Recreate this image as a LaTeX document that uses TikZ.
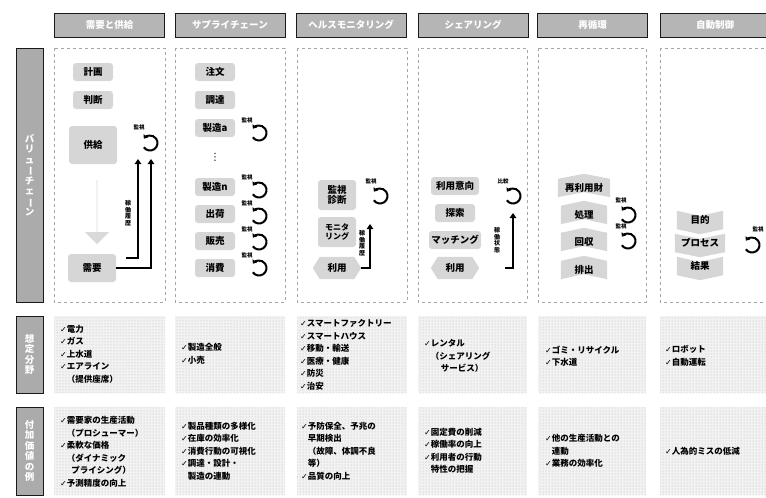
\documentclass[tikz,border=0pt]{standalone}
\usepackage{fontspec}
\setmainfont{Noto Sans CJK JP}
\newfontfamily\jp{Noto Sans CJK JP}
\newfontfamily\dv{DejaVu Sans}
\usetikzlibrary{shapes.arrows,arrows.meta,patterns,calc,backgrounds}
\newcommand\ck{{\dv\fontsize{8}{8}\selectfont ✓}}
\newcommand\ckph{\phantom{\ck}}
\newcommand\vchoon{\rotatebox[origin=c]{-90}{ー}}
\newcommand\upbg[1]{\fill[procfill] (#1.south west) -- (#1.north west) -- ($(#1.north)+(0,-5)$) -- (#1.north east) -- (#1.south east) -- ($(#1.south)+(0,-5)$) -- cycle;}
\newcommand\downbg[1]{\fill[procfill] (#1.north west) -- ($(#1.north)+(0,5)$) -- (#1.north east) -- (#1.south east) -- ($(#1.south)+(0,5)$) -- (#1.south west) -- cycle;}
\newcommand\hexbg[1]{\fill[procfill] ($(#1.west)+(-7,0)$) -- (#1.north west) -- (#1.north east) -- ($(#1.east)+(7,0)$) -- (#1.south east) -- (#1.south west) -- cycle;}
\tikzset{
 procfill/.style={fill=gray!32},
 tab/.style={draw=gray!20!black, fill=gray!58, text=white, minimum width=110pt, minimum height=24pt, inner sep=0pt, font=\jp\bfseries\fontsize{9.5}{10}\selectfont},
 vbarlbl/.style={draw=gray!20!black, fill=gray!66, text=white, inner sep=0pt, minimum width=27pt, align=center, font=\jp\bfseries\fontsize{9.5}{10.5}\selectfont},
 vcbox/.style={draw=gray!70, dashed, line width=0.6pt},
 fieldbox/.style={fill=gray!10, postaction={pattern=dots, pattern color=gray!55}},
 proc/.style={procfill, rounded corners=3pt, minimum width=40pt, minimum height=18pt, inner sep=1pt, align=center, font=\jp\bfseries\fontsize{9.5}{10.5}\selectfont},
 shproc/.style={proc, fill=none, minimum width=46pt, minimum height=18pt},
 bigdown/.style={single arrow, fill=gray!30, rotate=-90, minimum height=64pt, minimum width=24pt, single arrow head extend=6pt, inner sep=0pt},
 uparr/.style={line width=2.2pt, -{Triangle[length=5pt,width=6.5pt]}},
 tinylbl/.style={font=\jp\bfseries\fontsize{5.5}{6}\selectfont, inner sep=0pt},
 vsmall/.style={font=\jp\bfseries\fontsize{6}{6.5}\selectfont, inner sep=0pt, align=center},
 txt/.style={anchor=west, align=left, inner sep=0pt, font=\jp\bfseries\fontsize{8.5}{12.5}\selectfont},
 loopsym/.pic={\draw[line width=2pt, -{Triangle[length=3.5pt,width=5.5pt]}] (215:7.5pt) arc[start angle=215, end angle=505, radius=7.5pt];},
}
\begin{document}
\begin{tikzpicture}[x=1pt,y=-1pt]
\useasboundingbox (0,0) rectangle (766,498);
% headers
\node[tab] (h1) at (109.5,25) {需要と供給};
\node[tab] (h2) at (230,25) {サプライチェーン};
\node[tab] (h3) at (351,25) {ヘルスモニタリング};
\node[tab] (h4) at (473,25) {シェアリング};
\node[tab] (h5) at (592.5,25) {再循環};
\node[tab] (h6) at (715,25) {自動制御};
% left labels
\node[vbarlbl, minimum height=254pt] (l1) at (29.5,175) {バ\\リ\\ュ\\\vchoon\\チ\\ェ\\\vchoon\\ン};
\node[vbarlbl, minimum height=77pt] (l2) at (29.5,354.5) {想\\定\\分\\野};
\node[vbarlbl, minimum height=88pt] (l3) at (29.5,451) {付\\加\\価\\値\\の\\例};
% value chain boxes
\draw[vcbox] (54,48) rectangle (165,302);
\draw[vcbox] (175,48) rectangle (285,302);
\draw[vcbox] (297,48) rectangle (407,302);
\draw[vcbox] (418,48) rectangle (527,302);
\draw[vcbox] (538,48) rectangle (646,302);
\draw[vcbox] (660,48) rectangle (770,302);
% field rows
\foreach \l/\r in {54/165,175/285,297/407,418/527,538/646,660/770}{
  \path[fieldbox] (\l,316) rectangle (\r,393);
  \path[fieldbox] (\l,407) rectangle (\r,495);
}
% column 1
\node[proc] (c1a) at (93,72) {計画};
\node[proc] (c1b) at (93,100) {判断};
\node[proc, minimum width=48pt, minimum height=38pt] (c1c) at (93,145) {供給};
\node[bigdown] (c1arr) at (97,212) {};
\node[proc, minimum width=48pt, minimum height=28pt] (c1d) at (92,268) {需要};
\pic at (150,143) {loopsym};
\node[tinylbl] (c1lab) at (139,127) {監視};
\coordinate (c1s) at (126,258);
\draw[uparr] (c1s) -| (138,159);
\draw[uparr] (c1d.east) -| (151,159);
\node[vsmall] (c1v) at (128,213) {稼\\働\\履\\歴};
% column 2
\node[proc] (c2a) at (215,72) {注文};
\node[proc] (c2b) at (215,100) {調達};
\node[proc] (c2c) at (215,128) {製造a};
\node[inner sep=0pt, font=\dv\fontsize{10}{10}\selectfont] (c2d) at (215,157) {⋮};
\node[proc] (c2e) at (215,187) {製造n};
\node[proc] (c2f) at (215,214) {出荷};
\node[proc] (c2g) at (215,241) {販売};
\node[proc] (c2h) at (215,268) {消費};
\foreach \yy/\nm in {133/a,190/b,216/c,242/d,268/e}{
  \pic at (259,\yy) {loopsym};
  \node[tinylbl] (c2l\nm) at (247,\yy-13) {監視};
}
% column 3
\node[proc, minimum width=38pt, minimum height=30pt] (c3a) at (337,195) {監視\\診断};
\node[proc, minimum width=38pt, minimum height=30pt, font=\jp\bfseries\fontsize{8}{9}\selectfont] (c3b) at (337,232) {モニタ\\リング};
\node[shproc, minimum width=34pt, minimum height=22pt] (c3c) at (337,268) {利用};
\pic at (380,196) {loopsym};
\node[tinylbl] (c3lab) at (371,181) {監視};
\draw[uparr] (c3c.east) ++(7,0) -| (370,224);
\node[vsmall] (c3v) at (362,243) {稼\\働\\履\\歴};
% column 4
\node[proc, minimum width=48pt] (c4a) at (455,186) {利用意向};
\node[proc] (c4b) at (455,213) {探索};
\node[proc, minimum width=52pt] (c4c) at (455,240) {マッチング};
\node[shproc, minimum width=34pt, minimum height=22pt] (c4d) at (455,268) {利用};
\pic at (513,196) {loopsym};
\node[tinylbl] (c4lab) at (503,181) {比較};
\coordinate (c4s) at (505,268);
\draw[uparr] (c4s) -| (513,213);
\node[vsmall] (c4v) at (497,240) {稼\\働\\状\\態};
% column 5
\node[shproc, minimum width=52pt] (c5a) at (584,188) {再利用財};
\node[shproc] (c5b) at (584,215) {処理};
\node[shproc] (c5c) at (584,242) {回収};
\node[shproc] (c5d) at (584,270) {排出};
\pic at (628,215) {loopsym};
\node[tinylbl] (c5l1) at (621,200) {監視};
\pic at (628,241) {loopsym};
\node[tinylbl] (c5l2) at (621,226) {監視};
% column 6
\node[shproc] (c6a) at (700,220) {目的};
\node[shproc, minimum width=50pt] (c6b) at (700,243) {プロセス};
\node[shproc] (c6c) at (700,266) {結果};
\pic at (752,245) {loopsym};
\node[tinylbl] (c6lab) at (758,229) {監視};
\begin{scope}[on background layer]
  \hexbg{c3c} \hexbg{c4d}
  \upbg{c5a} \upbg{c5b} \upbg{c5c} \upbg{c5d}
  \downbg{c6a} \downbg{c6b} \downbg{c6c}
\end{scope}
% field texts
\node[txt] (f1) at (60,354) {\ck 電力\\\ck ガス\\\ck 上水道\\\ck エアライン\\\ckph（提供座席）};
\node[txt] (f2) at (181,354) {\ck 製造全般\\\ck 小売};
\node[txt] (f3) at (300,355) {\ck スマートファクトリー\\\ck スマートハウス\\\ck 移動・輸送\\\ck 医療・健康\\\ck 防災\\\ck 治安};
\node[txt] (f4) at (424,356) {\ck レンタル\\\ckph（シェアリング\\\ckph\hspace{10pt}サービス）};
\node[txt] (f5) at (545,356) {\ck ゴミ・リサイクル\\\ck 下水道};
\node[txt] (f6) at (665,356) {\ck ロボット\\\ck 自動運転};
% value texts
\node[txt] (v1) at (60,452) {\ck 需要家の生産活動\\\ckph（プロシューマー）\\\ck 柔軟な価格\\\ckph（ダイナミック\\\ckph\hspace{4.5pt}プライシング）\\\ck 予測精度の向上};
\node[txt] (v2) at (181,451) {\ck 製品種類の多様化\\\ck 在庫の効率化\\\ck 消費行動の可視化\\\ck 調達・設計・\\\ckph 製造の連動};
\node[txt] (v3) at (301,451) {\ck 予防保全、予兆の\\\ckph 早期検出\\\ckph（故障、体調不良\\\ckph 等）\\\ck 品質の向上};
\node[txt] (v4) at (424,451) {\ck 固定費の削減\\\ck 稼働率の向上\\\ck 利用者の行動\\\ckph 特性の把握};
\node[txt] (v5) at (545,451) {\ck 他の生産活動との\\\ckph 連動\\\ck 業務の効率化};
\node[txt] (v6) at (665,451) {\ck 人為的ミスの低減};
\end{tikzpicture}
\end{document}
